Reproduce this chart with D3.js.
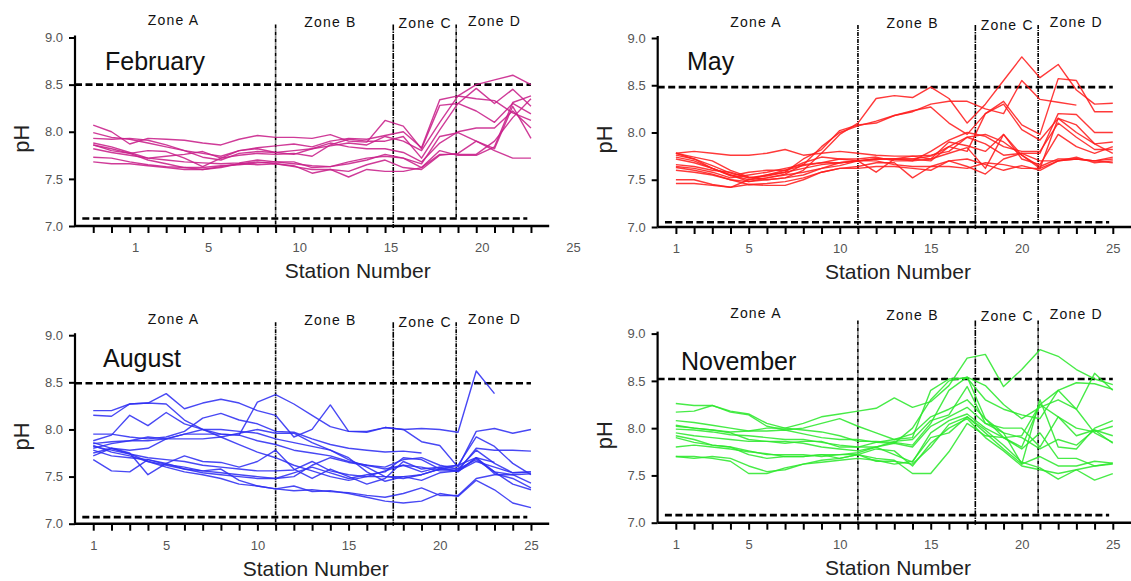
<!DOCTYPE html>
<html>
<head>
<meta charset="utf-8">
<script src="https://cdn.jsdelivr.net/npm/d3@7"></script>
<style>
  html, body { margin: 0; padding: 0; background: #fff; }
  svg { display: block; font-family: "Liberation Sans", Arial, sans-serif; }
</style>
</head>
<body>
<svg id="chart" width="1131" height="581"></svg>
<script>
// Monthly pH profiles along the estuary, one line per survey run.
const stations = [1,2,3,4,5,6,7,8,9,10,11,12,13,14,15,16,17,18,19,20,21,22,23,24,25];
const months = ["February", "May", "August", "November"];
const yTicks = [7.0, 7.5, 8.0, 8.5, 9.0];
const xTickLabels = [1, 5, 10, 15, 20, 25];
const zoneNames = ["Zone A", "Zone B", "Zone C", "Zone D"];
const zoneBounds = [11.0, 17.45, 20.9];
const zoneLabelAt = [5.4, 14.0, 19.2, 23.0];
const upperLimit = [8.50, 8.48, 8.49, 8.52];
const lowerLimit = [7.08, 7.05, 7.07, 7.08];

const febPH = [
  [8.07,8.00,7.87,7.93,7.92,7.91,7.88,7.86,7.92,7.96,7.94,7.94,7.93,7.97,7.90,7.89,8.12,8.06,7.82,8.28,8.30,8.46,8.30,8.45,8.27],
  [7.99,7.94,7.92,7.88,7.84,7.80,7.77,7.74,7.80,7.83,7.85,7.87,7.84,7.90,7.93,7.92,7.96,8.00,7.83,8.34,8.38,8.50,8.55,8.60,8.50],
  [7.93,7.92,7.93,7.91,7.86,7.80,7.73,7.70,7.77,7.79,7.78,7.80,7.82,7.85,7.88,7.86,7.95,7.90,7.80,8.10,8.38,8.35,8.33,8.20,8.12],
  [7.88,7.84,7.78,7.72,7.74,7.76,7.79,7.72,7.75,7.77,7.76,7.77,7.74,7.86,7.92,7.90,7.90,7.95,7.72,8.02,8.30,8.22,8.10,8.30,8.19],
  [7.86,7.80,7.77,7.80,7.79,7.72,7.63,7.72,7.80,7.82,7.78,7.76,7.82,7.88,7.84,7.82,7.82,7.78,7.68,7.88,8.00,8.04,8.04,8.22,8.04],
  [7.82,7.78,7.75,7.72,7.70,7.68,7.67,7.66,7.67,7.70,7.68,7.66,7.64,7.63,7.66,7.70,7.76,7.72,7.66,7.95,7.99,7.90,7.80,7.72,7.72],
  [7.73,7.72,7.68,7.65,7.63,7.62,7.62,7.64,7.65,7.67,7.68,7.68,7.62,7.63,7.68,7.72,7.74,7.72,7.62,7.80,7.75,7.75,7.84,8.31,8.38],
  [7.68,7.66,7.66,7.64,7.62,7.60,7.60,7.63,7.66,7.65,7.66,7.64,7.56,7.60,7.58,7.65,7.70,7.62,7.60,7.75,7.77,7.90,7.82,8.27,7.93],
  [7.86,7.82,7.77,7.70,7.66,7.62,7.60,7.62,7.66,7.68,7.66,7.63,7.60,7.60,7.52,7.60,7.58,7.58,7.62,7.76,7.76,7.76,7.90,8.15,8.35]
];

const mayPH = [
  [7.78,7.74,7.70,7.60,7.53,7.50,7.52,7.60,7.78,7.98,8.10,8.36,8.39,8.37,8.48,8.36,8.10,8.30,8.55,8.80,8.58,8.72,8.45,8.30,8.31],
  [7.76,7.72,7.65,7.57,7.52,7.55,7.58,7.72,7.82,8.02,8.08,8.10,8.18,8.22,8.30,8.33,8.33,8.25,8.20,8.55,8.35,8.32,8.29,null,null],
  [7.74,7.70,7.62,7.55,7.50,7.52,7.56,7.66,7.85,8.00,8.07,8.12,8.18,8.23,8.27,8.10,7.98,8.20,8.33,8.08,7.98,8.57,8.55,8.22,8.22],
  [7.78,7.80,7.78,7.76,7.76,7.78,7.82,7.76,7.78,7.80,7.78,7.76,7.75,7.75,7.76,7.80,7.95,7.88,7.76,7.78,7.78,8.20,8.19,8.00,8.00],
  [7.72,7.68,7.62,7.55,7.48,7.50,7.52,7.55,7.62,7.65,7.70,7.72,7.72,7.72,7.75,7.85,7.95,7.98,7.90,7.76,7.62,8.15,8.00,7.88,7.90],
  [7.66,7.64,7.60,7.58,7.52,7.54,7.58,7.62,7.66,7.68,7.70,7.72,7.72,7.70,7.80,7.92,8.00,7.96,7.85,7.80,7.80,8.10,7.95,7.82,7.82],
  [7.64,7.62,7.58,7.52,7.55,7.58,7.62,7.66,7.68,7.72,7.72,7.74,7.70,7.70,7.72,7.90,7.86,7.80,7.98,7.72,7.66,7.98,7.85,7.78,7.85],
  [7.63,7.60,7.56,7.50,7.48,7.52,7.55,7.58,7.62,7.68,7.70,7.58,7.72,7.75,7.72,7.78,7.84,7.62,7.98,7.76,7.64,7.72,7.72,7.70,7.72],
  [7.60,7.58,7.55,7.50,7.45,7.46,7.48,7.52,7.58,7.62,7.62,7.64,7.64,7.62,7.60,7.70,7.72,7.66,7.60,7.65,7.60,7.70,7.72,7.70,7.74],
  [7.50,7.50,7.45,7.42,7.50,7.55,7.60,7.65,7.68,7.68,7.70,7.70,7.66,7.64,7.64,7.70,7.64,7.56,7.72,7.78,7.70,7.70,7.74,7.68,7.70],
  [7.46,7.46,7.44,7.42,7.45,7.44,7.44,7.50,7.58,7.62,7.64,7.68,7.68,7.52,7.64,7.64,7.62,7.68,7.66,7.62,7.62,7.70,7.72,7.70,7.68],
  [7.78,7.72,7.62,7.54,7.58,7.60,7.60,7.68,7.74,7.72,7.70,7.72,7.72,7.72,7.70,7.85,7.80,8.20,8.30,8.03,7.92,8.15,8.08,7.88,7.78]
];

const augPH = [
  [8.20,8.20,8.27,8.28,8.38,8.22,8.28,8.32,8.28,8.20,8.15,7.92,8.00,8.26,7.98,7.98,8.02,8.00,8.01,8.00,7.97,8.62,8.38,null,null],
  [8.15,8.14,8.27,8.28,8.27,8.10,8.00,7.95,7.94,8.29,8.37,8.27,8.15,8.03,7.98,7.97,8.02,8.00,7.87,7.83,7.60,7.98,8.01,7.96,8.00],
  [7.88,7.94,8.15,8.04,8.18,8.06,8.00,7.92,7.84,7.76,7.70,7.62,7.56,7.50,7.46,7.50,7.56,7.62,7.55,7.60,7.62,7.70,7.65,null,null],
  [7.95,7.95,7.92,7.90,7.92,7.98,8.12,8.17,8.10,8.06,7.98,7.97,7.90,7.84,7.80,7.78,7.76,7.77,7.75,null,null,null,null,null,null],
  [7.85,7.87,7.88,7.92,7.90,7.95,8.00,8.00,7.98,7.96,7.90,7.86,7.82,7.78,7.68,7.60,7.50,7.48,7.52,7.58,7.56,7.80,7.78,7.78,7.77],
  [7.80,7.85,7.88,7.88,7.90,7.90,7.90,7.92,7.96,8.00,7.96,7.96,7.86,7.78,7.70,7.55,7.45,7.50,7.52,7.58,7.62,7.92,7.82,7.64,7.52],
  [7.75,7.80,7.78,7.80,7.90,7.95,7.95,7.95,7.94,7.88,7.84,7.78,7.75,7.72,7.66,7.62,7.60,7.68,7.70,7.62,7.58,7.78,7.64,7.54,7.55],
  [7.83,7.76,7.72,7.66,7.62,7.58,7.54,7.52,7.50,7.48,7.48,7.50,7.62,7.70,7.65,7.62,7.58,7.62,7.60,7.56,7.56,7.70,7.55,7.52,7.43],
  [7.78,7.72,7.70,7.68,7.63,7.60,7.56,7.54,7.52,7.50,7.48,7.54,7.60,7.54,7.48,7.52,7.55,7.70,7.68,7.58,7.58,7.68,7.55,7.42,7.36],
  [7.72,7.80,7.75,7.52,7.64,7.72,7.66,7.65,7.60,7.66,7.78,7.58,7.48,7.58,7.50,7.42,7.48,7.66,7.58,7.60,7.55,7.70,7.53,7.48,7.38],
  [7.68,7.56,7.55,7.68,7.64,7.58,7.56,7.58,7.46,7.40,7.37,7.35,7.36,7.34,7.33,7.30,7.28,7.32,7.38,7.30,7.30,7.48,7.52,7.52,7.53],
  [7.82,7.78,7.74,7.66,7.60,7.55,7.52,7.48,7.42,7.40,7.37,7.40,7.34,7.35,7.32,7.28,7.24,7.22,7.24,7.32,7.29,7.46,7.36,7.22,7.17],
  [7.86,7.80,7.74,7.70,7.68,7.66,7.62,7.60,7.58,7.56,7.56,7.57,7.66,7.56,7.52,7.50,7.50,7.50,7.46,7.54,7.56,7.66,7.60,7.54,7.55]
];

const novPH = [
  [8.26,8.24,8.24,8.18,8.15,8.05,8.00,8.05,8.12,8.15,8.18,8.21,8.32,8.22,8.28,8.45,8.74,8.78,8.44,8.62,8.83,8.76,8.62,8.52,8.46],
  [8.17,8.18,8.24,8.17,8.14,8.02,7.98,8.00,8.05,8.10,8.02,7.95,7.88,7.90,8.40,8.52,8.53,8.30,8.20,8.14,8.10,8.40,8.48,8.47,8.41],
  [8.08,8.06,8.03,8.00,7.97,7.97,7.98,7.94,7.90,7.88,7.88,7.85,7.84,8.00,8.30,8.50,8.54,8.45,8.25,8.10,8.22,8.30,8.20,8.58,8.40],
  [8.03,8.00,7.98,7.96,7.97,8.00,8.00,7.98,7.96,7.92,7.86,7.86,7.85,7.82,8.05,8.40,8.54,8.10,7.90,7.80,8.25,8.12,7.92,7.98,7.92],
  [7.99,7.98,7.96,7.93,7.92,7.90,7.88,7.88,7.85,7.82,7.80,7.80,7.86,7.88,8.08,8.14,8.44,8.05,8.00,8.00,7.80,8.12,8.00,7.96,8.02],
  [7.95,7.92,7.90,7.88,7.86,7.86,7.86,7.84,7.80,7.78,7.76,7.80,7.84,7.80,8.02,8.12,8.22,8.05,7.95,7.90,7.78,7.88,7.82,7.98,7.84],
  [7.92,7.88,7.82,7.80,7.76,7.72,7.72,7.72,7.70,7.72,7.74,7.80,7.72,7.64,7.95,8.08,8.15,8.00,7.90,7.78,7.95,7.68,7.68,7.60,7.62],
  [7.90,7.85,7.82,7.80,7.72,7.68,7.70,7.70,7.72,7.68,7.72,7.78,7.76,7.60,7.84,8.00,8.10,7.90,7.76,7.60,7.56,7.52,7.56,7.60,7.63],
  [7.80,7.82,7.80,7.78,7.75,7.73,7.70,7.70,7.72,7.72,7.72,7.65,7.65,7.62,7.80,8.04,8.12,7.98,7.82,7.64,7.58,7.46,7.56,7.45,7.52],
  [7.70,7.68,7.70,7.68,7.60,7.54,7.56,7.62,7.64,7.66,7.68,7.66,7.62,7.65,7.90,7.95,8.12,7.95,7.78,7.62,7.70,7.60,7.60,7.65,7.63],
  [7.70,7.70,7.68,7.65,7.52,7.52,7.58,7.62,7.66,7.68,7.72,7.68,7.66,7.52,7.52,7.75,8.05,7.92,7.90,7.92,8.25,8.40,8.20,7.95,7.85],
  [8.02,8.00,7.98,7.95,7.88,7.86,7.84,7.86,7.86,7.80,7.80,7.85,7.88,7.94,8.12,8.20,8.30,8.10,7.95,7.62,8.30,7.80,7.78,8.00,8.08]
];

const seriesByMonth = [febPH, mayPH, augPH, novPH];
const lineColors = ["#c8208a", "#ff1e1e", "#2f2ff2", "#2ee82e"];

// Panel frames (pixel placement of each month's plot)
const panels = [
  { x0: 75,    x1: 549.2, yTop: 37.5,  yBot: 226,   labelShift: 2.3, titleX: 105, titleY: 70,  zoneDy: 0 },
  { x0: 657.7, x1: 1131,  yTop: 38,    yBot: 227,   labelShift: 0,   titleX: 687, titleY: 70,  zoneDy: 1 },
  { x0: 75,    x1: 549.2, yTop: 335.2, yBot: 523.7, labelShift: 0,   titleX: 103, titleY: 367, zoneDy: 1 },
  { x0: 657.6, x1: 1131,  yTop: 333.6, yBot: 522.7, labelShift: 0,   titleX: 681, titleY: 370, zoneDy: -3 }
];
const zoneLabelDy = [-12.5, -11, -9.5, -12];

const svg = d3.select("#chart");

panels.forEach((p, i) => {
  const g = svg.append("g");
  const x = d3.scaleLinear().domain([0, 26]).range([p.x0, p.x1]);
  const xLab = d3.scaleLinear().domain([0 - p.labelShift, 26 - p.labelShift]).range([p.x0, p.x1]);
  const y = d3.scaleLinear().domain([7.0, 9.0]).range([p.yBot, p.yTop]);

  // limit lines
  g.append("line")
    .attr("x1", x(0)).attr("x2", x(25))
    .attr("y1", y(upperLimit[i])).attr("y2", y(upperLimit[i]))
    .attr("stroke", "#000").attr("stroke-width", 2.6).attr("stroke-dasharray", "7,3.5");
  g.append("line")
    .attr("x1", x(0.4)).attr("x2", x(24.8))
    .attr("y1", y(lowerLimit[i])).attr("y2", y(lowerLimit[i]))
    .attr("stroke", "#000").attr("stroke-width", 2.6).attr("stroke-dasharray", "7,3.5");

  // zone boundaries
  zoneBounds.forEach((b, k) => {
    const bottom = k === 2 ? y(lowerLimit[i]) : p.yBot + 2;
    g.append("line")
      .attr("x1", x(b)).attr("x2", x(b))
      .attr("y1", p.yTop - 13).attr("y2", bottom)
      .attr("stroke", "#000").attr("stroke-width", 1.6)
      .attr("stroke-dasharray", k === 1 ? "6,1,1.5,1" : "4,1,1,1");
  });

  // zone labels
  zoneNames.forEach((z, k) => {
    g.append("text")
      .attr("x", x(zoneLabelAt[k]))
      .attr("y", p.yTop + zoneLabelDy[k] + p.zoneDy)
      .attr("text-anchor", "middle")
      .attr("font-size", 14)
      .attr("letter-spacing", 1.2)
      .attr("fill", "#111")
      .text(z);
  });

  // data lines
  const line = d3.line()
    .defined(d => d.v != null)
    .x(d => x(d.s))
    .y(d => y(d.v));
  seriesByMonth[i].forEach(vals => {
    const pts = stations.map((s, j) => ({ s: s, v: vals[j] }));
    g.append("path")
      .attr("d", line(pts))
      .attr("fill", "none")
      .attr("stroke", lineColors[i])
      .attr("stroke-width", 1.4)
      .attr("stroke-opacity", 0.88)
      .attr("stroke-linejoin", "round");
  });

  // y axis
  const yAxis = g.append("g")
    .attr("transform", `translate(${p.x0},0)`)
    .call(d3.axisLeft(y).tickValues(yTicks).tickFormat(d3.format(".1f")).tickSize(6).tickPadding(6));
  yAxis.select(".domain").attr("stroke-width", 2.2).attr("d", `M0,${p.yTop - 2}V${p.yBot}`);
  yAxis.selectAll(".tick line").attr("stroke-width", 2);
  yAxis.selectAll("text").attr("font-size", 13).attr("fill", "#555").attr("font-family", "Liberation Sans, Arial, sans-serif");

  // x axis: tick marks at every station
  const xAxis = g.append("g")
    .attr("transform", `translate(0,${p.yBot})`)
    .call(d3.axisBottom(x).tickValues(stations).tickSize(7).tickFormat(""));
  xAxis.select(".domain").attr("stroke-width", 2.6).attr("d", `M${p.x0},0H${p.x1}`);
  xAxis.selectAll(".tick line").attr("stroke-width", 2);

  // x axis labels
  const xLabels = g.append("g")
    .attr("transform", `translate(0,${p.yBot})`)
    .call(d3.axisBottom(xLab).tickValues(xTickLabels).tickSize(0).tickPadding(17).tickFormat(d3.format("d")));
  xLabels.select(".domain").remove();
  xLabels.selectAll("text").attr("font-size", 13).attr("fill", "#555").attr("font-family", "Liberation Sans, Arial, sans-serif");

  // axis titles
  g.append("text")
    .attr("x", xLab(13.2)).attr("y", p.yBot + 52)
    .attr("text-anchor", "middle")
    .attr("font-size", 21).attr("fill", "#222")
    .text("Station Number");
  g.append("text")
    .attr("transform", `translate(${p.x0 - 46},${(p.yTop + p.yBot) / 2 + 7}) rotate(-90)`)
    .attr("text-anchor", "middle")
    .attr("font-size", 22).attr("fill", "#222")
    .text("pH");

  // month title
  g.append("text")
    .attr("x", p.titleX).attr("y", p.titleY)
    .attr("font-size", 25).attr("fill", "#111")
    .text(months[i]);
});
</script>
</body>
</html>
